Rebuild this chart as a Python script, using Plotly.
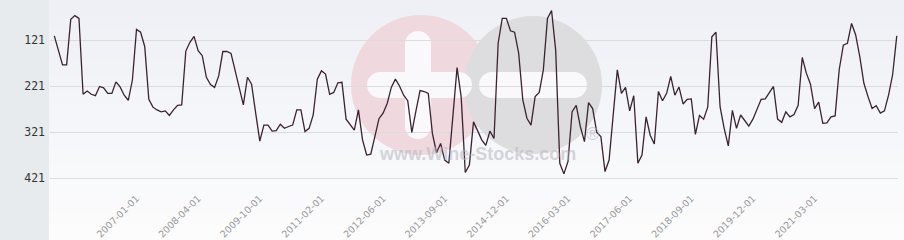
import plotly.graph_objects as go

# ---- data ----
label_dates = ["2007-01-01", "2008-04-01", "2009-10-01", "2011-02-01", "2012-06-01",
               "2013-09-01", "2014-12-01", "2016-03-01", "2017-06-01", "2018-09-01",
               "2019-12-01", "2021-03-01"]
points_before_first_label = 20
points_between_labels = 15
points_after_last_label = 20

ranks = [
    112, 143, 175, 175, 76, 68, 74, 239, 232, 239,
    242, 222, 225, 237, 237, 212, 223, 241, 252, 208,
    98, 104, 135, 250, 267, 273, 277, 275, 285, 273,
    263, 262, 145, 126, 113, 144, 155, 202, 218, 224,
    199, 146, 146, 150, 186, 224, 262, 202, 217, 280,
    341, 306, 306, 319, 318, 304, 313, 309, 306, 273,
    273, 320, 313, 284, 206, 188, 195, 239, 235, 214,
    213, 293, 304, 317, 273, 338, 371, 369, 331, 292,
    280, 259, 224, 206, 221, 241, 253, 322, 275, 231,
    233, 237, 324, 366, 346, 382, 389, 284, 181, 244,
    409, 393, 299, 318, 338, 350, 319, 335, 128, 74,
    74, 101, 104, 150, 251, 291, 306, 244, 235, 186,
    74, 57, 143, 389, 412, 385, 277, 263, 309, 342,
    257, 270, 322, 331, 407, 382, 280, 186, 237, 224,
    275, 242, 389, 371, 288, 328, 347, 233, 253, 237,
    200, 241, 223, 260, 250, 249, 326, 285, 293, 267,
    114, 104, 266, 313, 351, 274, 313, 284, 296, 308,
    293, 270, 250, 249, 235, 222, 293, 300, 277, 288,
    283, 263, 159, 193, 217, 270, 256, 302, 301, 288,
    286, 185, 132, 128, 85, 110, 157, 215, 244, 270,
    264, 280, 275, 241, 196, 112,
]
y_ticks = [121, 221, 321, 421]


# ---- category dates (monthly, anchored to the labelled dates) ----
def ym(s):
    y, m = int(s[:4]), int(s[5:7])
    return y * 12 + (m - 1)


def fmt(k):
    return f"{k // 12:04d}-{k % 12 + 1:02d}-01"


anchors = [ym(s) for s in label_dates]
months = [anchors[0] - points_before_first_label + j for j in range(points_before_first_label)]
for a, b in zip(anchors[:-1], anchors[1:]):
    for j in range(points_between_labels):
        months.append(a + round(j * (b - a) / points_between_labels))
months += [anchors[-1] + j for j in range(points_after_last_label + 1)]
dates = [fmt(k) for k in months][:len(ranks)]

# ---- layout geometry (pixels) ----
W, H = 904, 240
L, R, T, B = 50, 6, 0, 55
PW, PH = W - L - R, H - T - B


def px(x):
    return (x - L) / PW


def py(y):
    return 1 - (y - T) / PH


shapes = []
# background gradient on the right panel
n = 16
for k in range(n):
    t = k / (n - 1)
    c = tuple(round(a + (b - a) * t) for a, b in zip((238, 240, 245), (252, 252, 253)))
    shapes.append(dict(type="rect", xref="paper", yref="paper",
                       x0=px(L - 1), x1=px(W), y0=py(k * H / n), y1=py((k + 1) * H / n),
                       fillcolor=f"rgb{c}", line=dict(width=0), layer="below"))
# left grey panel
shapes.append(dict(type="rect", xref="paper", yref="paper", x0=px(0), x1=px(49),
                   y0=py(0), y1=py(H), fillcolor="#e8ebee", line=dict(width=0), layer="below"))


def circ(cx, cy, r, color):
    shapes.append(dict(type="circle", xref="paper", yref="paper",
                       x0=px(cx - r), x1=px(cx + r), y0=py(cy - r), y1=py(cy + r),
                       fillcolor=color, line=dict(width=0), layer="below"))


def rect(x0, y0, x1, y1, color):
    shapes.append(dict(type="rect", xref="paper", yref="paper",
                       x0=px(x0), x1=px(x1), y0=py(y0), y1=py(y1),
                       fillcolor=color, line=dict(width=0), layer="below"))


def pill(x0, y0, x1, y1, color):
    w, h = x1 - x0, y1 - y0
    if w >= h:
        r = h / 2
        rect(x0 + r, y0, x1 - r, y1, color)
        circ(x0 + r, y0 + r, r, color)
        circ(x1 - r, y0 + r, r, color)
    else:
        r = w / 2
        rect(x0, y0 + r, x1, y1 - r, color)
        circ(x0 + r, y0 + r, r, color)
        circ(x0 + r, y1 - r, r, color)


# watermark logo
circ(421, 85, 70, "#efd8de")
circ(533, 85, 69, "#dddde0")
pill(405, 31, 431, 139, "#f9f9fb")
pill(367, 72, 472, 98, "#f9f9fb")
pill(479, 72, 587, 98, "#f9f9fb")

fig = go.Figure()
fig.add_trace(go.Scatter(x=dates, y=ranks, mode="lines",
                         line=dict(color="#3b2230", width=1.3),
                         hoverinfo="x+y", showlegend=False))

fig.update_layout(
    width=W, height=H,
    margin=dict(l=L, r=R, t=T, b=B),
    paper_bgcolor="#fbfbfc",
    plot_bgcolor="rgba(0,0,0,0)",
    shapes=shapes,
    annotations=[
        dict(text="<b>www.Wine-Stocks.com</b>", xref="paper", yref="paper",
             x=px(477), y=py(166), showarrow=False,
             font=dict(family="Liberation Sans", size=18, color="rgba(180,180,188,0.55)")),
        dict(text="®", xref="paper", yref="paper", x=px(592), y=py(146), showarrow=False,
             font=dict(family="Liberation Sans", size=18, color="rgba(180,180,188,0.6)")),
    ],
    xaxis=dict(type="category", range=[-1.05, len(ranks) - 0.7],
               tickmode="array", tickvals=label_dates, ticktext=label_dates,
               tickangle=-45, showgrid=False, zeroline=False, showline=False, ticks="",
               ticklabelstandoff=5,
               tickfont=dict(family="DejaVu Sans", size=9.5, color="#999999")),
    yaxis=dict(range=[436.2, 34.0], tickmode="array", tickvals=y_ticks,
               gridcolor="#dcdcdc", gridwidth=1, zeroline=False, showline=False, ticks="",
               ticklabelstandoff=4,
               tickfont=dict(family="DejaVu Sans Mono", size=11.5, color="#333333")),
)

fig.write_html("out.html")
